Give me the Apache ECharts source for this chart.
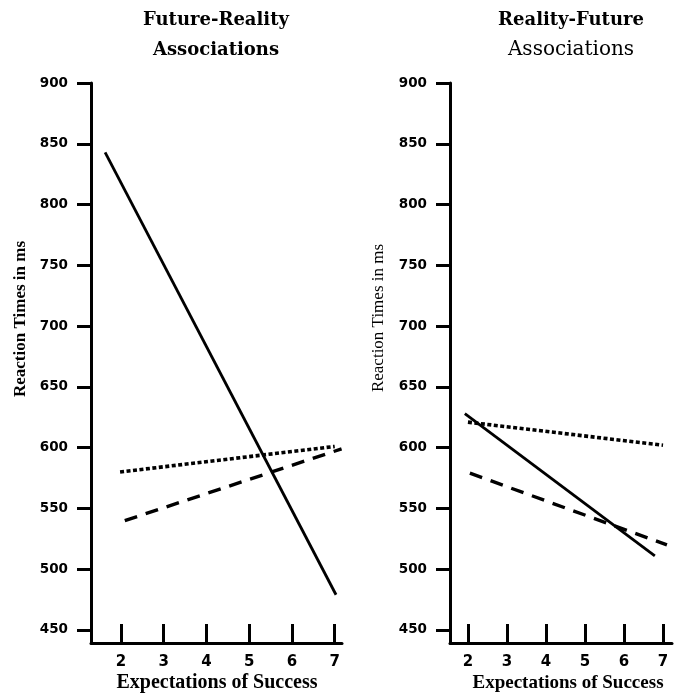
<!DOCTYPE html>
<html>
<head>
<meta charset="utf-8">
<script src="https://cdn.jsdelivr.net/npm/echarts@6/dist/echarts.min.js"></script>
<style>html,body{margin:0;padding:0;background:#fff}#c{width:679px;height:693px}</style>
</head>
<body>
<div id="c"></div>
<script>
// ---- data ----
const panelTitles = [["Future-Reality", "Associations"], ["Reality-Future", "Associations"]];
const xName = "Expectations of Success";
const yName = "Reaction Times in ms";
const xTicks = [2, 3, 4, 5, 6, 7];
const yTicks = [450, 500, 550, 600, 650, 700, 750, 800, 850, 900];

// Future-Reality panel
const frSolidX = [1.63, 7.03];
const frSolidY = [843, 479];
const frDottedX = [1.98, 7.0];
const frDottedY = [580, 601];
const frDashedX = [2.09, 7.16];
const frDashedY = [540, 599];

// Reality-Future panel
const rfSolidX = [1.92, 6.79];
const rfSolidY = [628, 511];
const rfDottedX = [2.0, 7.0];
const rfDottedY = [621, 602];
const rfDashedX = [2.05, 7.1];
const rfDashedY = [579, 520];

function pts(xs, ys) { return xs.map((x, i) => [x, ys[i]]); }

const chart = echarts.init(document.getElementById('c'), null, {renderer: 'canvas'});

function yAxisCfg(gi) {
  return {
    type: 'value', gridIndex: gi, min: 439.3, max: 900,
    splitLine: {show: false},
    axisLine: {show: true, lineStyle: {color: '#000', width: 3}},
    axisTick: {show: true, inside: false, length: 14, customValues: yTicks, lineStyle: {color: '#000', width: 3}},
    axisLabel: {customValues: yTicks, margin: 23, color: '#000', fontFamily: 'DejaVu Sans', fontWeight: 'bold', fontSize: 13.5}
  };
}
function xAxisCfg(gi, min, max) {
  return {
    type: 'value', gridIndex: gi, min: min, max: max,
    splitLine: {show: false},
    axisLine: {show: true, onZero: false, lineStyle: {color: '#000', width: 3}},
    axisTick: {show: true, inside: true, length: 19, customValues: xTicks, lineStyle: {color: '#000', width: 3}},
    axisLabel: {customValues: xTicks, margin: 12, color: '#000', fontFamily: 'DejaVu Sans', fontWeight: 'bold', fontSize: 15}
  };
}
const solid = {color: '#000', width: 2.8, type: 'solid'};
const dotted = {color: '#000', width: 3.6, type: [4, 2.5]};
const dashed = {color: '#000', width: 3.4, type: [13, 9]};
function line(gi, data, ls) {
  return {type: 'line', xAxisIndex: gi, yAxisIndex: gi, data: data, showSymbol: false, symbol: 'none',
    lineStyle: ls, silent: true, animation: false};
}
const titleFont = 'bold 18px "DejaVu Serif"';
const option = {
  animation: false,
  backgroundColor: '#fff',
  grid: [
    {left: 91, top: 83, width: 251, height: 560},
    {left: 450, top: 83, width: 222, height: 560}
  ],
  xAxis: [xAxisCfg(0, 1.3, 7.17), xAxisCfg(1, 1.54, 7.23)],
  yAxis: [yAxisCfg(0), yAxisCfg(1)],
  series: [
    line(0, pts(frSolidX, frSolidY), solid),
    line(0, pts(frDottedX, frDottedY), dotted),
    line(0, pts(frDashedX, frDashedY), dashed),
    line(1, pts(rfSolidX, rfSolidY), solid),
    line(1, pts(rfDottedX, rfDottedY), dotted),
    line(1, pts(rfDashedX, rfDashedY), dashed)
  ],
  graphic: [
    {type: 'text', x: 216, y: 20, style: {text: panelTitles[0][0], font: titleFont, fill: '#000', align: 'center', verticalAlign: 'middle'}},
    {type: 'text', x: 216, y: 50, style: {text: panelTitles[0][1], font: titleFont, fill: '#000', align: 'center', verticalAlign: 'middle'}},
    {type: 'text', x: 571, y: 20, style: {text: panelTitles[1][0], font: titleFont, fill: '#000', align: 'center', verticalAlign: 'middle'}},
    {type: 'text', x: 571, y: 50, style: {text: panelTitles[1][1], font: '20px "DejaVu Serif"', fill: '#000', align: 'center', verticalAlign: 'middle'}},
    {type: 'text', x: 217, y: 683, style: {text: xName, font: 'bold 20px "Liberation Serif"', fill: '#000', align: 'center', verticalAlign: 'middle'}},
    {type: 'text', x: 568, y: 683, style: {text: xName, font: 'bold 19px "Liberation Serif"', fill: '#000', align: 'center', verticalAlign: 'middle'}},
    {type: 'text', x: 21, y: 319, rotation: Math.PI / 2, style: {text: yName, font: 'bold 17px "Liberation Serif"', fill: '#000', align: 'center', verticalAlign: 'middle'}},
    {type: 'text', x: 379, y: 318, rotation: Math.PI / 2, style: {text: yName, font: '17px "Liberation Serif"', fill: '#000', align: 'center', verticalAlign: 'middle'}}
  ]
};
chart.setOption(option);
</script>
</body>
</html>
